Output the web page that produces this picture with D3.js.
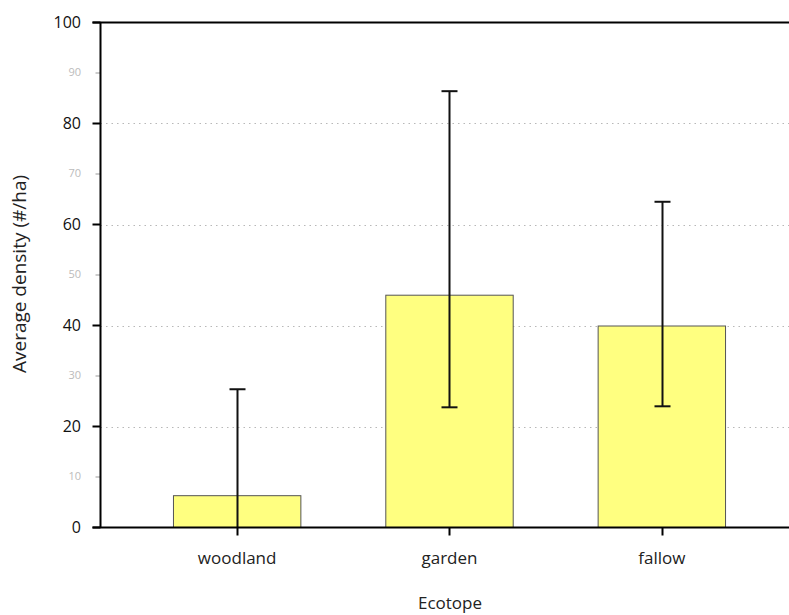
<!DOCTYPE html>
<html>
<head>
<meta charset="utf-8">
<script src="https://cdn.jsdelivr.net/npm/d3@7"></script>
<style>
  html, body { margin: 0; padding: 0; background: #fff; }
  svg { display: block; font-family: "Open Sans", Lato, sans-serif; }
</style>
</head>
<body>
<svg id="chart" width="789" height="615"></svg>
<script>
// Average density per ecotope with error bars
const categories = ["woodland", "garden", "fallow"];
const means = [6.3, 46.0, 39.9];
const errLow = [-10, 23.8, 24.0];
const errHigh = [27.4, 86.4, 64.5];
const majorTicks = [0, 20, 40, 60, 80, 100];
const minorTicks = [10, 30, 50, 70, 90];
const gridTicks = [20, 40, 60, 80];

const svg = d3.select("#chart");
const plotLeft = 100.5, plotRight = 789, plotTop = 22.5, plotBottom = 527.5;

const y = d3.scaleLinear().domain([0, 100]).range([plotBottom, plotTop]);
const x = d3.scaleBand().domain(categories).range([131, 768])
  .paddingInner(0.4).paddingOuter(0.2);

// dotted gridlines
svg.append("g").selectAll("line").data(gridTicks).join("line")
  .attr("x1", plotLeft).attr("x2", plotRight)
  .attr("y1", d => Math.round(y(d)) + 0.5).attr("y2", d => Math.round(y(d)) + 0.5)
  .attr("stroke", "#b8b8b8").attr("stroke-width", 1.2)
  .attr("stroke-dasharray", "1.5,4");

// bars
svg.append("g").selectAll("rect").data(categories).join("rect")
  .attr("x", d => x(d))
  .attr("width", x.bandwidth())
  .attr("y", (d, i) => y(means[i]))
  .attr("height", (d, i) => y(0) - y(means[i]))
  .attr("fill", "#ffff80")
  .attr("stroke", "#555").attr("stroke-width", 1);

// error bars, clipped to the plotting area
svg.append("clipPath").attr("id", "plotclip").append("rect")
  .attr("x", plotLeft).attr("y", 0).attr("width", plotRight - plotLeft).attr("height", plotBottom);
const eb = svg.append("g").attr("clip-path", "url(#plotclip)")
  .attr("stroke", "#111").attr("stroke-width", 2);
categories.forEach((c, i) => {
  const cx = Math.round(x(c) + x.bandwidth() / 2) + 0.5;
  eb.append("line").attr("x1", cx).attr("x2", cx)
    .attr("y1", y(errHigh[i])).attr("y2", y(errLow[i]));
  [errHigh[i], errLow[i]].forEach(v => {
    eb.append("line").attr("x1", cx - 8).attr("x2", cx + 8)
      .attr("y1", y(v)).attr("y2", y(v));
  });
});

// y axis: major ticks dark, minor ticks light
const yAxisG = svg.append("g");
yAxisG.selectAll("line.major").data(majorTicks).join("line")
  .attr("class", "major")
  .attr("x1", plotLeft - 8).attr("x2", plotLeft)
  .attr("y1", d => y(d)).attr("y2", d => y(d))
  .attr("stroke", "#000").attr("stroke-width", 2);
yAxisG.selectAll("line.minor").data(minorTicks).join("line")
  .attr("class", "minor")
  .attr("x1", plotLeft - 5).attr("x2", plotLeft)
  .attr("y1", d => y(d)).attr("y2", d => y(d))
  .attr("stroke", "#bbb").attr("stroke-width", 1.5);
yAxisG.selectAll("text.major").data(majorTicks).join("text")
  .attr("class", "major")
  .attr("x", 81).attr("y", d => y(d)).attr("dy", "0.35em")
  .attr("text-anchor", "end").attr("font-size", 16).attr("fill", "#111")
  .text(d => d);
yAxisG.selectAll("text.minor").data(minorTicks).join("text")
  .attr("class", "minor")
  .attr("x", 81).attr("y", d => y(d)).attr("dy", "0.3em")
  .attr("text-anchor", "end").attr("font-size", 11).attr("fill", "#bbb")
  .text(d => d);

// x axis ticks and labels
svg.append("g").selectAll("line").data(categories).join("line")
  .attr("x1", d => Math.round(x(d) + x.bandwidth() / 2) + 0.5)
  .attr("x2", d => Math.round(x(d) + x.bandwidth() / 2) + 0.5)
  .attr("y1", plotBottom).attr("y2", plotBottom + 8)
  .attr("stroke", "#000").attr("stroke-width", 2);
svg.append("g").selectAll("text").data(categories).join("text")
  .attr("x", d => x(d) + x.bandwidth() / 2).attr("y", 564)
  .attr("text-anchor", "middle").attr("font-size", 17).attr("fill", "#222")
  .text(d => d);

// frame lines: left axis, bottom axis, top border
svg.append("line").attr("x1", plotLeft).attr("x2", plotLeft).attr("y1", plotTop).attr("y2", plotBottom)
  .attr("stroke", "#000").attr("stroke-width", 2);
svg.append("line").attr("x1", plotLeft - 8).attr("x2", plotRight).attr("y1", plotBottom).attr("y2", plotBottom)
  .attr("stroke", "#000").attr("stroke-width", 2);
svg.append("line").attr("x1", plotLeft - 8).attr("x2", plotRight).attr("y1", plotTop).attr("y2", plotTop)
  .attr("stroke", "#000").attr("stroke-width", 2);

// axis titles
svg.append("text").attr("x", 450).attr("y", 609)
  .attr("text-anchor", "middle").attr("font-size", 17).attr("fill", "#222")
  .text("Ecotope");
svg.append("text").attr("transform", "translate(26,274) rotate(-90)")
  .attr("text-anchor", "middle").attr("font-size", 19).attr("fill", "#222")
  .text("Average density (#/ha)");
</script>
</body>
</html>
